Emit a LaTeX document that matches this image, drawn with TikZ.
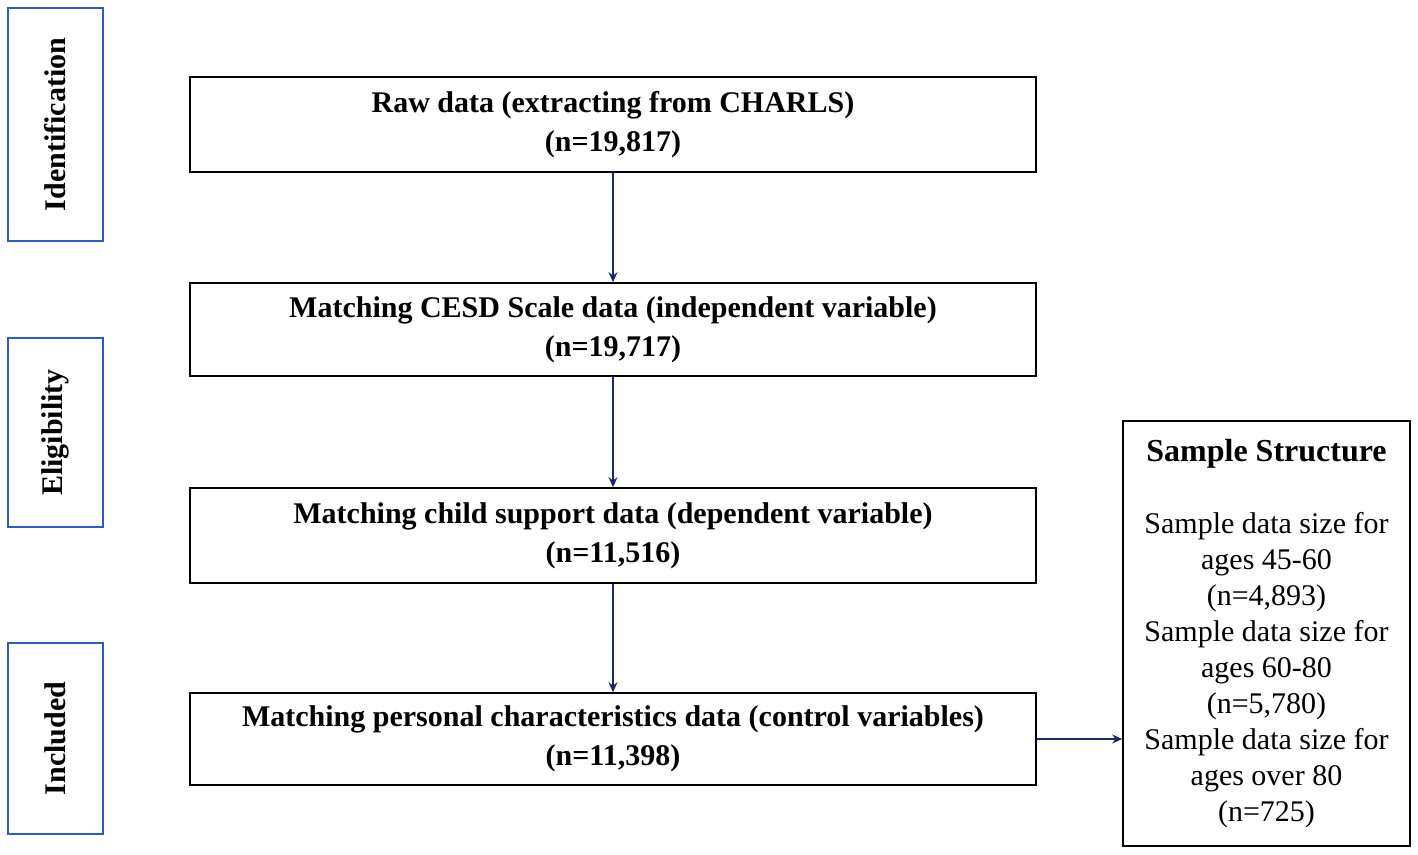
\documentclass[tikz,border=0pt]{standalone}
\usepackage{fontspec}
\setmainfont{Liberation Serif}
\usetikzlibrary{arrows.meta}
\definecolor{stagecol}{HTML}{2A5BC8}
\definecolor{arrowcol}{HTML}{1B2A66}
\tikzset{
  stagebox/.style={draw=stagecol, line width=1.6pt, minimum width=95pt, inner sep=0pt},
  stagetext/.style={rotate=90, font=\fontsize{30}{32}\selectfont\bfseries},
  flowbox/.style={draw=black, line width=1.6pt, minimum width=846pt, inner sep=0pt, align=center,
    font=\fontsize{30}{39}\selectfont\bfseries},
  samplebox/.style={draw=black, line width=1.6pt, minimum width=287pt, minimum height=425pt, inner sep=0pt, align=center,
    font=\fontsize{30}{36}\selectfont},
  flowarrow/.style={draw=arrowcol, line width=1.4pt, -{Stealth[length=10pt,width=9pt]}}
}
\begin{document}
\begin{tikzpicture}[x=1pt,y=-1pt]
\useasboundingbox (0,0) rectangle (1418,854);
\fill[white] (0,0) rectangle (1418,854);
% stage boxes
\node[stagebox, minimum height=233pt] (s1) at (55.5,124.5) {};
\node[stagetext] (s1t) at (s1) {Identification};
\node[stagebox, minimum height=189pt] (s2) at (55.5,432.5) {};
\node[stagetext] (s2t) at (s2) {Eligibility};
\node[stagebox, minimum height=191pt] (s3) at (55.5,738.5) {};
\node[stagetext] (s3t) at (s3) {Included};
% flow boxes
\node[flowbox, minimum height=95pt] (b1) at (613,124.5) {Raw data (extracting from CHARLS)\\(n=19,817)};
\node[flowbox, minimum height=93pt] (b2) at (613,329.5) {Matching CESD Scale data (independent variable)\\(n=19,717)};
\node[flowbox, minimum height=95pt] (b3) at (613,535.5) {Matching child support data (dependent variable)\\(n=11,516)};
\node[flowbox, minimum height=92pt] (b4) at (613,739) {Matching personal characteristics data (control variables)\\(n=11,398)};
% sample structure
\node[samplebox] (ss) at (1266.5,633.5) {{\bfseries\fontsize{32}{36}\selectfont Sample Structure}\\[36pt]
Sample data size for\\ages 45-60\\(n=4,893)\\Sample data size for\\ages 60-80\\(n=5,780)\\Sample data size for\\ages over 80\\(n=725)};
% arrows
\draw[flowarrow] (b1.south) -- (b2.north);
\draw[flowarrow] (b2.south) -- (b3.north);
\draw[flowarrow] (b3.south) -- (b4.north);
\draw[flowarrow] (b4.east) -- (ss.west |- b4.east);
\end{tikzpicture}
\end{document}
